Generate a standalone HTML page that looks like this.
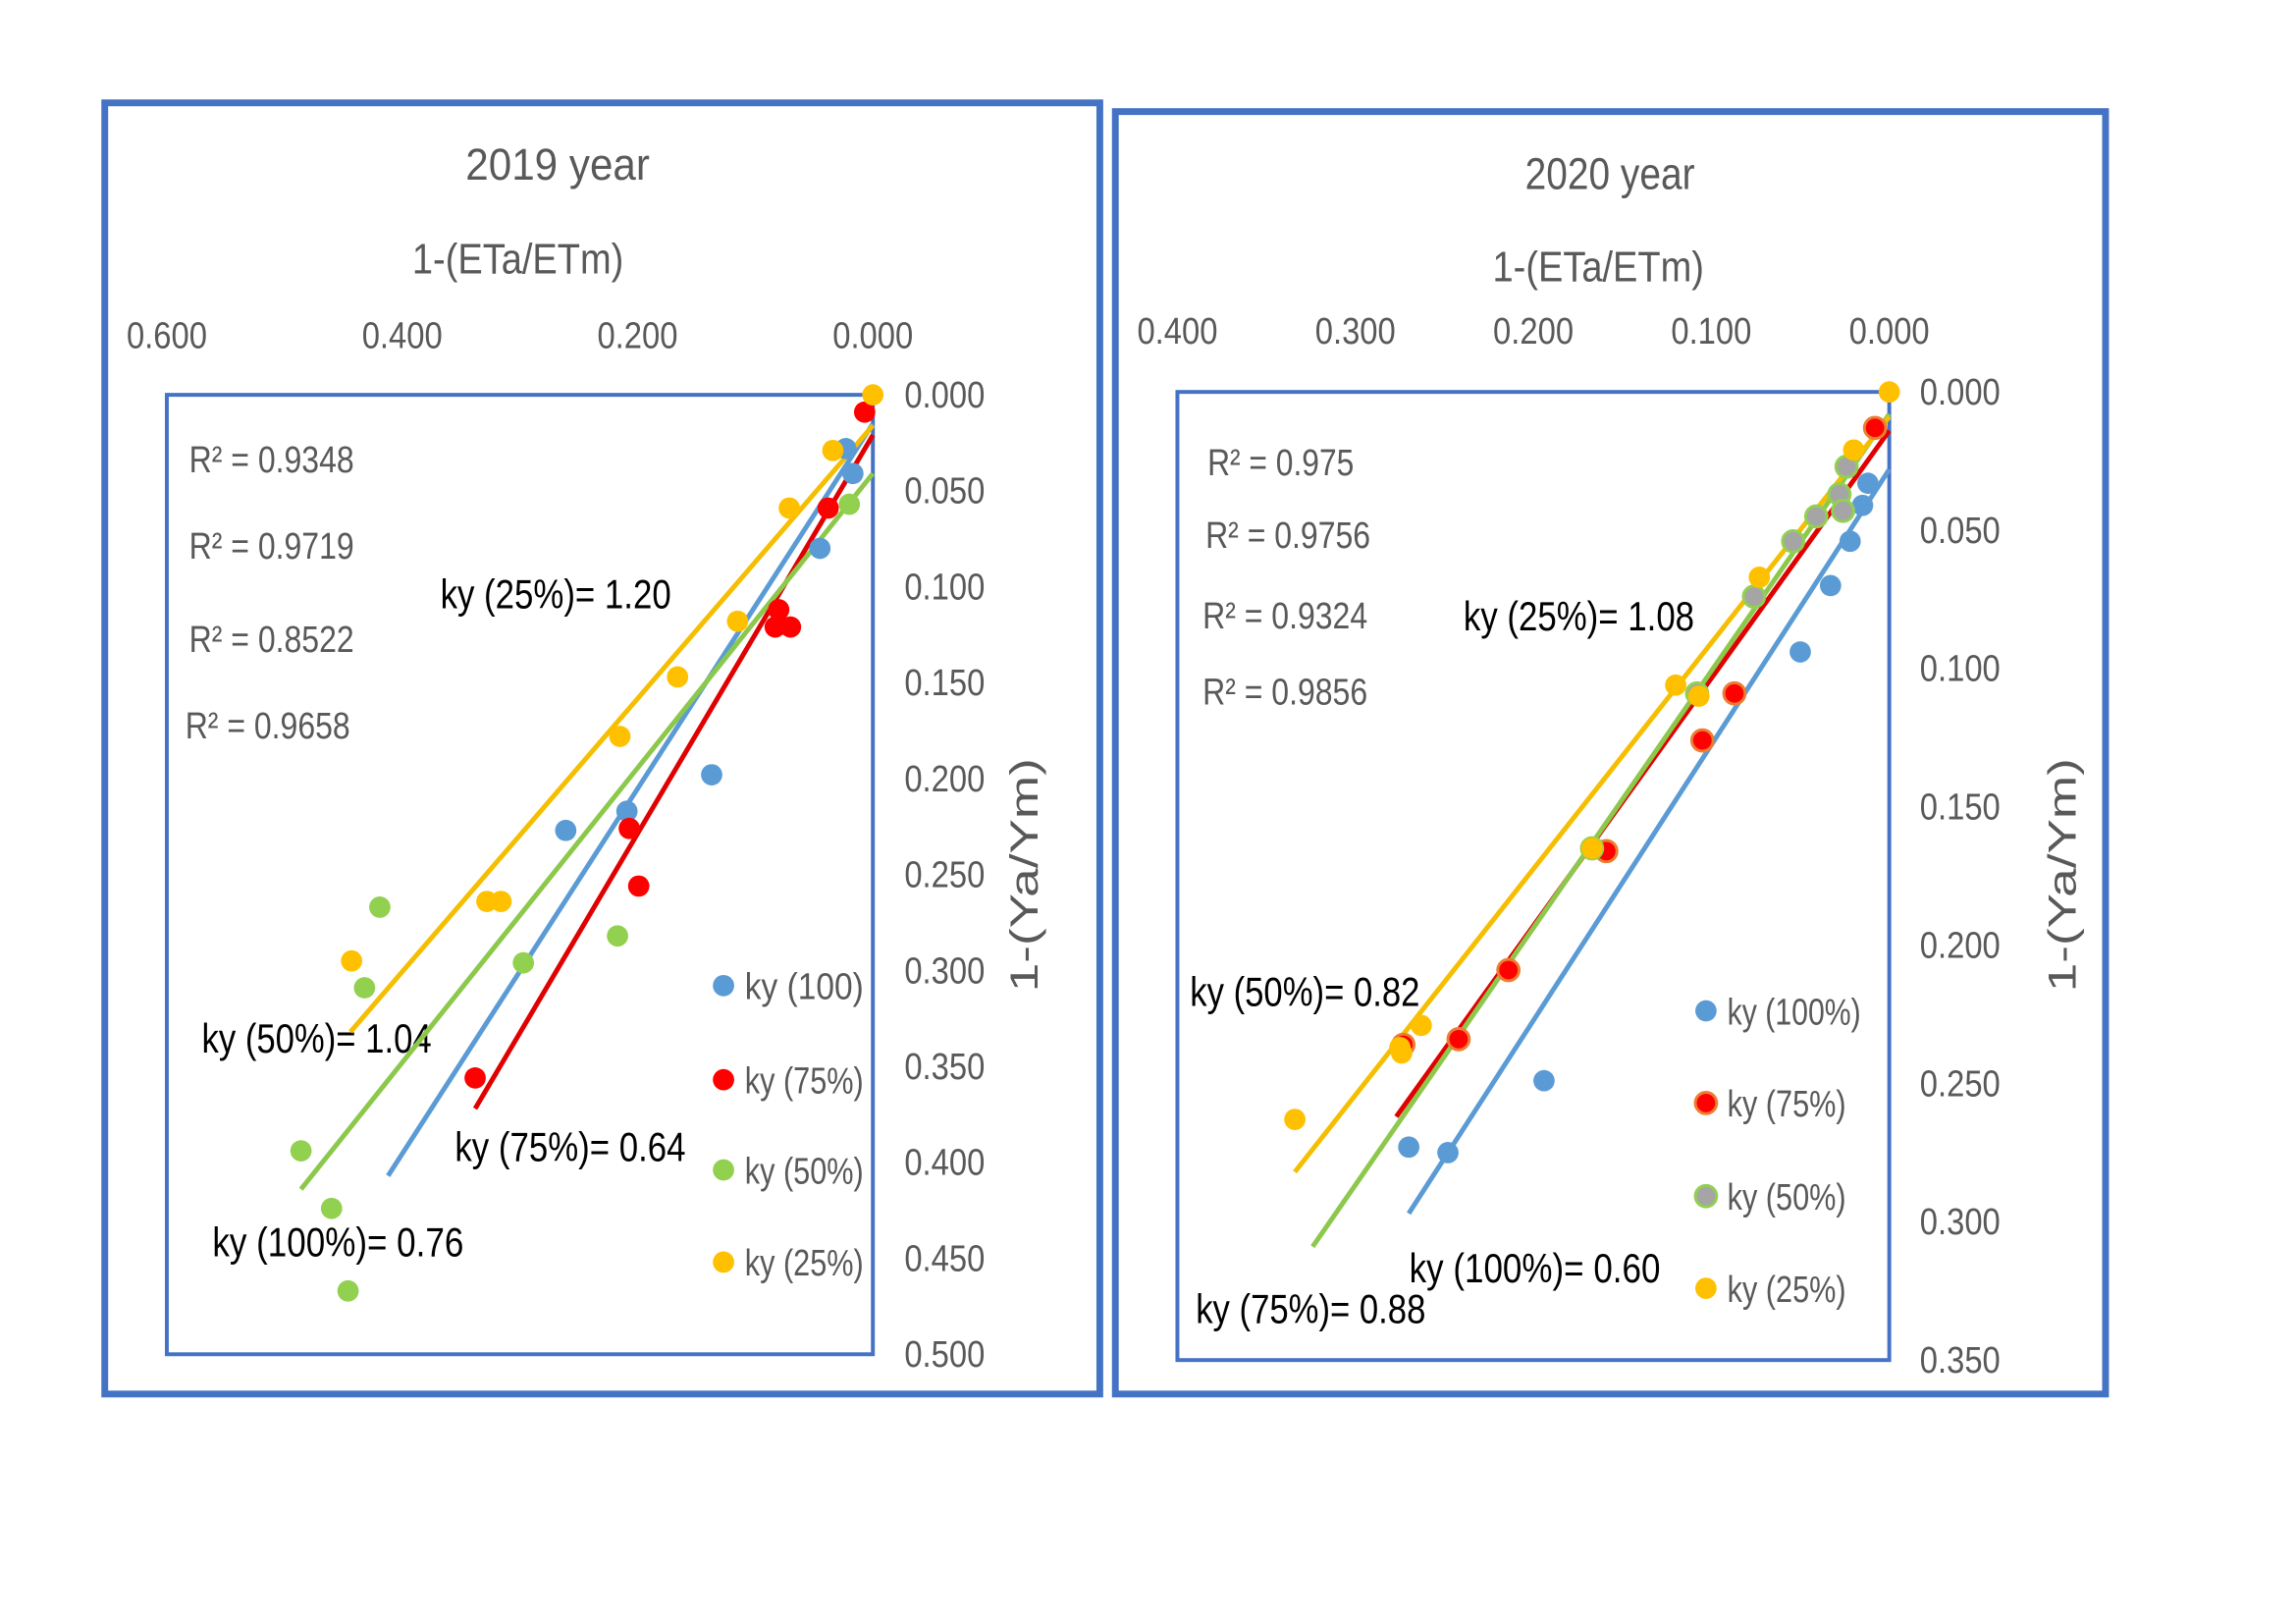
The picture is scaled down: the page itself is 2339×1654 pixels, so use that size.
<!DOCTYPE html>
<html><head><meta charset="utf-8"><style>
html,body{margin:0;padding:0;background:#fff;}
svg{display:block;font-family:"Liberation Sans",sans-serif;}
</style></head><body>
<svg id="chart" width="2339" height="1654" viewBox="0 0 2339 1654" xmlns="http://www.w3.org/2000/svg">
<rect x="0" y="0" width="2339" height="1654" fill="#fff"/>
<g transform="translate(2,2) scale(0.988)">
<!-- 2019 panel -->
<g>
<rect x="106" y="104" width="1026" height="1331" fill="none" stroke="#4472C4" stroke-width="7"/>
<rect x="170" y="405" width="728" height="989" fill="none" stroke="#4472C4" stroke-width="4"/>
<text x="573" y="183" text-anchor="middle" font-size="46" fill="#595959" textLength="190" lengthAdjust="spacingAndGlyphs">2019 year</text>
<text x="532" y="280" text-anchor="middle" font-size="44" fill="#595959" textLength="218" lengthAdjust="spacingAndGlyphs">1-(ETa/ETm)</text>
<text transform="translate(1068,900) rotate(-90)" text-anchor="middle" font-size="40" fill="#595959" textLength="241" lengthAdjust="spacingAndGlyphs">1-(Ya/Ym)</text>
<g font-size="38" fill="#595959">
<text x="193" y="485" textLength="170" lengthAdjust="spacingAndGlyphs">R² = 0.9348</text>
<text x="193" y="574" textLength="170" lengthAdjust="spacingAndGlyphs">R² = 0.9719</text>
<text x="193" y="670" textLength="170" lengthAdjust="spacingAndGlyphs">R² = 0.8522</text>
<text x="189" y="759" textLength="170" lengthAdjust="spacingAndGlyphs">R² = 0.9658</text>
</g>
<g font-size="42" fill="#000">
<text x="452" y="625" textLength="238" lengthAdjust="spacingAndGlyphs">ky (25%)= 1.20</text>
<text x="206" y="1083" textLength="237" lengthAdjust="spacingAndGlyphs">ky (50%)= 1.04</text>
<text x="467" y="1195" textLength="238" lengthAdjust="spacingAndGlyphs">ky (75%)= 0.64</text>
<text x="217" y="1293" textLength="259" lengthAdjust="spacingAndGlyphs">ky (100%)= 0.76</text>
</g>
</g>
<!-- 2020 panel -->
<g>
<rect x="1148" y="113" width="1021" height="1322" fill="none" stroke="#4472C4" stroke-width="7"/>
<rect x="1212" y="402" width="734" height="998" fill="none" stroke="#4472C4" stroke-width="4"/>
<text x="1658" y="193" text-anchor="middle" font-size="46" fill="#595959" textLength="175" lengthAdjust="spacingAndGlyphs">2020 year</text>
<text x="1646" y="288" text-anchor="middle" font-size="44" fill="#595959" textLength="218" lengthAdjust="spacingAndGlyphs">1-(ETa/ETm)</text>
<text transform="translate(2138,900) rotate(-90)" text-anchor="middle" font-size="40" fill="#595959" textLength="241" lengthAdjust="spacingAndGlyphs">1-(Ya/Ym)</text>
<g font-size="38" fill="#595959">
<text x="1243" y="488" textLength="151" lengthAdjust="spacingAndGlyphs">R² = 0.975</text>
<text x="1241" y="563" textLength="170" lengthAdjust="spacingAndGlyphs">R² = 0.9756</text>
<text x="1238" y="646" textLength="170" lengthAdjust="spacingAndGlyphs">R² = 0.9324</text>
<text x="1238" y="724" textLength="170" lengthAdjust="spacingAndGlyphs">R² = 0.9856</text>
</g>
<g font-size="42" fill="#000">
<text x="1507" y="648" textLength="238" lengthAdjust="spacingAndGlyphs">ky (25%)= 1.08</text>
<text x="1225" y="1035" textLength="237" lengthAdjust="spacingAndGlyphs">ky (50%)= 0.82</text>
<text x="1451" y="1320" textLength="259" lengthAdjust="spacingAndGlyphs">ky (100%)= 0.60</text>
<text x="1231" y="1362" textLength="237" lengthAdjust="spacingAndGlyphs">ky (75%)= 0.88</text>
</g>
</g>
<g id="marks"></g>
</g>
</svg>
<script>
// ---- Axis ticks ----
const xTicks2019 = [0.6, 0.4, 0.2, 0.0];
const yTicks2019 = [0, 0.05, 0.1, 0.15, 0.2, 0.25, 0.3, 0.35, 0.4, 0.45, 0.5];
const xTicks2020 = [0.4, 0.3, 0.2, 0.1, 0.0];
const yTicks2020 = [0, 0.05, 0.1, 0.15, 0.2, 0.25, 0.3, 0.35];
const seriesNames2019 = ["ky (100)", "ky (75%)", "ky (50%)", "ky (25%)"];
const seriesNames2020 = ["ky (100%)", "ky (75%)", "ky (50%)", "ky (25%)"];

// ---- 2019 data ----
const blue2019X = [0.023, 0.017, 0.045, 0.137, 0.209, 0.261];
const blue2019Y = [0.028, 0.041, 0.080, 0.198, 0.217, 0.227];
const red2019X = [0.007, 0.038, 0.080, 0.083, 0.070, 0.207, 0.199, 0.338];
const red2019Y = [0.009, 0.059, 0.112, 0.121, 0.121, 0.226, 0.256, 0.356];
const green2019X = [0.020, 0.217, 0.297, 0.419, 0.432, 0.486, 0.460, 0.446];
const green2019Y = [0.057, 0.282, 0.296, 0.267, 0.309, 0.394, 0.424, 0.467];
const yellow2019X = [0.0, 0.034, 0.071, 0.115, 0.166, 0.215, 0.328, 0.316, 0.443];
const yellow2019Y = [0.0, 0.029, 0.059, 0.118, 0.147, 0.178, 0.264, 0.264, 0.295];
// trendlines: start x, y at start, y at x=0 (blue, red, green, yellow)
const fit2019StartX = [0.412, 0.338, 0.486, 0.444];
const fit2019StartY = [0.407, 0.372, 0.414, 0.332];
const fit2019Intercept = [0.015, 0.021, 0.041, 0.016];

// ---- 2020 data ----
const blue2020X = [0.012, 0.015, 0.022, 0.033, 0.050, 0.194, 0.248, 0.270];
const blue2020Y = [0.033, 0.041, 0.054, 0.070, 0.094, 0.249, 0.275, 0.273];
const red2020X = [0.008, 0.087, 0.105, 0.159, 0.214, 0.242, 0.273];
const red2020Y = [0.013, 0.109, 0.126, 0.166, 0.209, 0.234, 0.236];
const green2020X = [0.024, 0.028, 0.026, 0.041, 0.054, 0.076, 0.108, 0.167];
const green2020Y = [0.027, 0.037, 0.043, 0.045, 0.054, 0.074, 0.109, 0.165];
const yellow2020X = [0.0, 0.020, 0.073, 0.120, 0.107, 0.167, 0.263, 0.275, 0.274, 0.334];
const yellow2020Y = [0.0, 0.021, 0.067, 0.106, 0.110, 0.165, 0.229, 0.237, 0.239, 0.263];
const fit2020StartX = [0.270, 0.277, 0.324, 0.334];
const fit2020StartY = [0.297, 0.262, 0.309, 0.282];
const fit2020Intercept = [0.028, 0.014, 0.008, 0.009];

const NS = "http://www.w3.org/2000/svg";
const marks = document.getElementById("marks");
function mk(tag, attrs) {
  const e = document.createElementNS(NS, tag);
  for (const k in attrs) e.setAttribute(k, attrs[k]);
  marks.appendChild(e);
  return e;
}
function makeScales(left, right, top, bottom, xmax, ymax) {
  return {
    sx: v => right - v / xmax * (right - left),
    sy: v => top + v / ymax * (bottom - top)
  };
}
const fills = ["#5B9BD5", "#FF0000", "#92D050", "#FFC000"];
const lineCols = ["#5B9BD5", "#E00000", "#8CC84B", "#F5BE00"];

function drawPanel(p) {
  const s = makeScales(p.left, p.right, p.top, p.bottom, p.xmax, p.ymax);
  p.xTicks.forEach(t => {
    const el = mk("text", {x: s.sx(t), y: p.xLabelY, "text-anchor": "middle", "font-size": 38, fill: "#595959", textLength: 83, lengthAdjust: "spacingAndGlyphs"});
    el.textContent = t.toFixed(3);
    
    
  });
  p.yTicks.forEach(t => {
    const el = mk("text", {x: p.yLabelX, y: s.sy(t) + 13, "text-anchor": "middle", "font-size": 38, fill: "#595959", textLength: 83, lengthAdjust: "spacingAndGlyphs"});
    el.textContent = t.toFixed(3);
    
    
  });
  for (let i = 0; i < 4; i++) {
    const ln = mk("line", {x1: s.sx(p.fitX[i]), y1: s.sy(p.fitY[i]), x2: s.sx(0), y2: s.sy(p.fitI[i]), stroke: lineCols[i], "stroke-width": 5});
    
    
  }
  for (let i = 0; i < 4; i++) {
    const xs = p.xs[i], ys = p.ys[i];
    for (let j = 0; j < xs.length; j++) {
      const c = mk("circle", {cx: s.sx(xs[j]), cy: s.sy(ys[j]), r: 11, fill: p.ptFill[i], stroke: p.ptStroke[i], "stroke-width": p.ptStroke[i] === "none" ? 0 : 3});
      
      
    }
  }
  for (let i = 0; i < 4; i++) {
    const y = p.legY[i];
    const c = mk("circle", {cx: p.legX, cy: y, r: 11, fill: p.ptFill[i], stroke: p.ptStroke[i], "stroke-width": p.ptStroke[i] === "none" ? 0 : 3});
    
    
    const t = mk("text", {x: p.legX + 22, y: y + 14, "font-size": 38, fill: "#595959", textLength: p.names[i].length * 15.3, lengthAdjust: "spacingAndGlyphs"});
    t.textContent = p.names[i];
    
    
  }
}

drawPanel({left: 170, right: 898, top: 405, bottom: 1394, xmax: 0.6, ymax: 0.5,
  xTicks: xTicks2019, yTicks: yTicks2019, xLabelY: 357, yLabelX: 972,
  xs: [blue2019X, red2019X, green2019X, yellow2019X], ys: [blue2019Y, red2019Y, green2019Y, yellow2019Y],
  fitX: fit2019StartX, fitY: fit2019StartY, fitI: fit2019Intercept,
  ptFill: fills, ptStroke: ["none", "none", "none", "none"],
  legX: 744, legY: [1014, 1111, 1204, 1299], names: seriesNames2019});

drawPanel({left: 1212, right: 1946, top: 402, bottom: 1400, xmax: 0.4, ymax: 0.35,
  xTicks: xTicks2020, yTicks: yTicks2020, xLabelY: 352, yLabelX: 2019,
  xs: [blue2020X, red2020X, green2020X, yellow2020X], ys: [blue2020Y, red2020Y, green2020Y, yellow2020Y],
  fitX: fit2020StartX, fitY: fit2020StartY, fitI: fit2020Intercept,
  ptFill: ["#5B9BD5", "#FF0000", "#A5A5A5", "#FFC000"], ptStroke: ["none", "#ED7D31", "#92D050", "none"],
  legX: 1757, legY: [1040, 1135, 1231, 1326], names: seriesNames2020});
</script>
</body></html>
